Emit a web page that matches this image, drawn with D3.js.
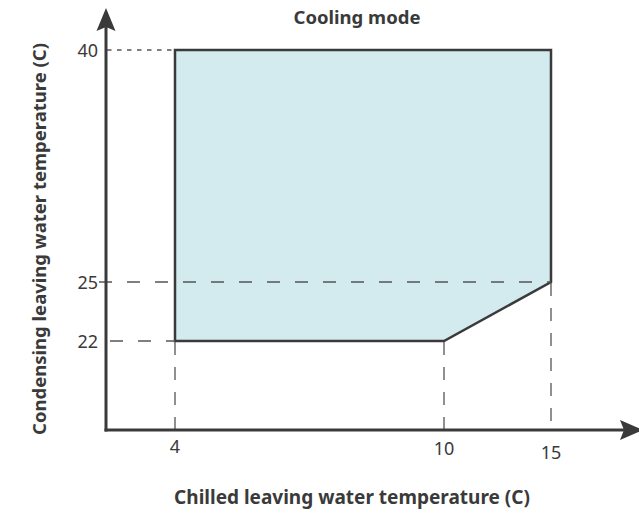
<!DOCTYPE html>
<html>
<head>
<meta charset="utf-8">
<script src="https://cdn.jsdelivr.net/npm/d3@7"></script>
<style>
  body { margin: 0; background: #fff; }
  text { font-family: "Noto Sans", "Open Sans", sans-serif; fill: #3a3a3a; }
</style>
</head>
<body>
<script>
// operating envelope corners (chilled C, condensing C)
const chilled = [4, 4, 15, 15, 10]
const condensing = [22, 40, 40, 25, 22]
const xTicks = [4, 10, 15]
const yTicks = [22, 25, 40]
const title = "Cooling mode"
const xTitle = "Chilled leaving water temperature (C)"
const yTitle = "Condensing leaving water temperature (C)"

const width = 639
const height = 518
const x0 = 106, y0 = 430

// schematic axes, the spacing is not linear in the picture
let x = d3.scaleLinear().domain([0, 4, 10, 15]).range([x0, 175, 444, 551])
let y = d3.scaleLinear().domain([0, 22, 25, 40]).range([y0, 341, 282, 50])

let svg = d3.select("body").append("svg")
    .attr("width", width).attr("height", height)

// envelope
let pts = chilled.map((c, i) => [x(c), y(condensing[i])])
svg.append("path")
    .attr("d", d3.line()(pts) + "Z")
    .attr("fill", "#d3eaee")
    .attr("stroke", "#3a3a3a")
    .attr("stroke-width", 2.5)
    .attr("stroke-linejoin", "miter")

// guide lines
let guides = svg.append("g").attr("stroke", "#555").attr("stroke-width", 1.3).attr("fill", "none")
guides.append("line")
    .attr("x1", x0 + 1).attr("x2", x(4)).attr("y1", y(40)).attr("y2", y(40))
    .attr("stroke-dasharray", "4.5,5.5")
guides.append("line")
    .attr("x1", 99).attr("x2", x(15)).attr("y1", y(25)).attr("y2", y(25))
    .attr("stroke-dasharray", "13,15")
guides.append("line")
    .attr("x1", 110).attr("x2", x(4)).attr("y1", y(22)).attr("y2", y(22))
    .attr("stroke-dasharray", "13,15")
xTicks.forEach(t => {
    let top = t == 15 ? y(25) : y(22)
    guides.append("line")
        .attr("x1", x(t)).attr("x2", x(t)).attr("y1", top + 1).attr("y2", y0)
        .attr("stroke-dasharray", "13,12")
})

// axes with arrows
svg.append("line")
    .attr("x1", x0).attr("y1", y0 + 1.5).attr("x2", x0).attr("y2", 26)
    .attr("stroke", "#3a3a3a").attr("stroke-width", 3)
svg.append("line")
    .attr("x1", x0 - 1.5).attr("y1", y0).attr("x2", 624).attr("y2", y0)
    .attr("stroke", "#3a3a3a").attr("stroke-width", 3)
svg.append("path")
    .attr("d", `M${x0},8 L${x0 + 9.5},31 L${x0},27 L${x0 - 9.5},31 Z`)
    .attr("fill", "#3a3a3a")
svg.append("path")
    .attr("d", `M643,${y0} L620,${y0 - 10} L624,${y0} L620,${y0 + 10} Z`)
    .attr("fill", "#3a3a3a")

// tick labels
let xBase = {4: 453, 10: 455, 15: 459}
svg.selectAll(".xt").data(xTicks).enter().append("text")
    .attr("x", d => x(d))
    .attr("y", d => xBase[d])
    .attr("text-anchor", "middle")
    .attr("font-size", 18)
    .text(d => d)
svg.selectAll(".yt").data(yTicks).enter().append("text")
    .attr("x", 98)
    .attr("y", d => y(d) + 7)
    .attr("text-anchor", "end")
    .attr("font-size", 18)
    .text(d => d)

// titles
svg.append("text")
    .attr("x", 357).attr("y", 24)
    .attr("text-anchor", "middle")
    .attr("font-size", 18.5).attr("font-weight", "bold")
    .text(title)
svg.append("text")
    .attr("x", 352).attr("y", 504)
    .attr("text-anchor", "middle")
    .attr("font-size", 19).attr("font-weight", "bold")
    .text(xTitle)
svg.append("text")
    .attr("transform", "translate(46,239) rotate(-90)")
    .attr("text-anchor", "middle")
    .attr("font-size", 18.5).attr("font-weight", "bold")
    .text(yTitle)
</script>
</body>
</html>
